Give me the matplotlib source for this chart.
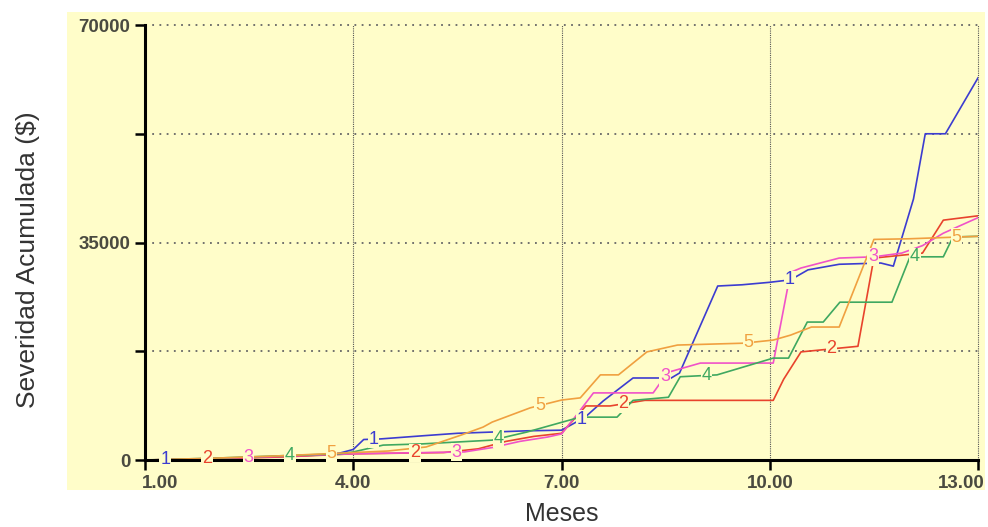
import numpy as np
import matplotlib.pyplot as plt
from matplotlib.patches import Rectangle
import matplotlib.transforms as mtransforms

# Series (month, accumulated severity in $)
m1 = [1, 1.5, 2, 2.5, 3, 3.5, 3.8, 4.0, 4.15, 4.4, 5.0, 5.5, 6.0, 6.5, 7.0, 7.34, 7.6,
      8.03, 8.42, 8.55, 8.7, 9.25, 9.6, 10.0, 10.3, 10.55, 11.0, 11.6, 11.78, 12.07,
      12.24, 12.53, 13.0]
v1 = [0, 100, 250, 400, 600, 800, 1100, 1700, 3300, 3400, 3900, 4300, 4500, 4700, 4800,
      6900, 9500, 13200, 13200, 13000, 14000, 28000, 28200, 28600, 29000, 30600, 31500,
      31700, 31200, 42000, 52500, 52500, 61500]

m2 = [1, 2, 3, 4, 5.3, 5.8, 6.2, 6.6, 7.0, 7.35, 7.7, 8.2, 10.05, 10.2, 10.45, 11.27,
      11.5, 12.2, 12.5, 13.0]
v2 = [0, 200, 500, 1000, 1200, 1800, 3000, 3800, 4300, 8700, 8700, 9600, 9600, 13000,
      17400, 18300, 32500, 33300, 38600, 39300]

m3 = [1, 2, 3, 4, 5.6, 6.0, 6.4, 6.8, 7.0, 7.2, 7.46, 8.32, 8.53, 9.0, 10.05, 10.3,
      10.45, 11.0, 11.5, 11.9, 12.2, 12.5, 12.7, 13.0]
v3 = [0, 250, 600, 1000, 1300, 2000, 3000, 3700, 4200, 7000, 10800, 10800, 14100, 15600,
      15600, 30200, 30900, 32500, 32700, 33300, 34500, 36500, 37500, 39000]

m4 = [1, 2, 3, 3.8, 4.0, 4.43, 5.0, 6.0, 6.5, 6.98, 7.27, 7.8, 8.03, 8.54, 8.71, 9.24,
      10.05, 10.27, 10.54, 10.77, 11.01, 11.76, 12.02, 12.5, 12.64, 13.0]
v4 = [0, 300, 700, 1000, 1300, 2400, 2600, 3200, 4500, 6000, 6900, 6900, 9600, 10100,
      13400, 13700, 16400, 16400, 22200, 22200, 25400, 25400, 32700, 32700, 35900, 36000]

m5 = [1, 2, 3, 4, 4.5, 5.05, 5.55, 5.87, 6.0, 6.55, 7.0, 7.27, 7.56, 7.82, 8.23, 8.67,
      9.62, 10.05, 10.3, 10.6, 11.0, 11.5, 12.0, 13.0]
v5 = [0, 300, 700, 1200, 1450, 2100, 4000, 5300, 6100, 8400, 9650, 10000, 13700, 13700,
      17400, 18500, 18800, 19300, 20100, 21400, 21400, 35500, 35600, 36000]

series = [(m1, v1), (m2, v2), (m3, v3), (m4, v4), (m5, v5)]
names = ['1', '2', '3', '4', '5']
colors = ['#3c3cd0', '#e8432c', '#f052c8', '#3fa860', '#f0a040']

x_ticks = [1, 4, 7, 10, 13]
x_ticklabels = ['1.00', '4.00', '7.00', '10.00', '13.00']
y_ticks = [0, 17500, 35000, 52500, 70000]
y_ticklabels = ['0', '', '35000', '', '70000']

bg = '#FFFDC9'

fig = plt.figure(figsize=(9.88, 5.27), dpi=100)
fig.patches.append(Rectangle((0.0678, 0.0702), 0.929, 0.907, transform=fig.transFigure,
                             facecolor=bg, edgecolor='none', zorder=-5))
ax = fig.add_axes([0.1468, 0.1271, 0.8431, 0.8254])
ax.set_facecolor(bg)

for (m, v), c in zip(series, colors):
    ax.plot(m, v, color=c, lw=1.2, zorder=2)

# number markers along each line, like the simulation tool draws them
for k, ((m, v), c, n) in enumerate(zip(series, colors, names)):
    for j in range(4):
        xm = 1.29 + 0.6 * k + 3 * j
        ym = np.interp(xm, m, v)
        ax.text(xm, ym, n, color=c, fontsize=13, ha='center', va='center',
                family='Liberation Sans', zorder=4,
                bbox=dict(facecolor=bg, edgecolor='none', pad=0.5))

ax.set_xlim(1, 13)
ax.set_ylim(0, 70000)
ax.set_xticks(x_ticks)
ax.set_xticklabels(x_ticklabels)
ax.set_yticks(y_ticks)
ax.set_yticklabels(y_ticklabels)

for s in ['top', 'right']:
    ax.spines[s].set_visible(False)
for s in ['left', 'bottom']:
    ax.spines[s].set_linewidth(2.2)
    ax.spines[s].set_color('black')

ax.tick_params(direction='out', length=7, width=1.8, color='black',
               labelsize=13.5, labelcolor='#4a4a40')
for lab in ax.get_xticklabels() + ax.get_yticklabels():
    lab.set_family('Liberation Sans')
    lab.set_fontweight('bold')

xl = ax.get_xticklabels()
xl[0].set_horizontalalignment('left')
xl[0].set_transform(xl[0].get_transform() + mtransforms.ScaledTranslation(-0.03, 0, fig.dpi_scale_trans))
xl[-1].set_horizontalalignment('right')
xl[-1].set_transform(xl[-1].get_transform() + mtransforms.ScaledTranslation(0.07, 0, fig.dpi_scale_trans))

ax.grid(axis='x', color='#555555', lw=0.8, linestyle=(0, (1, 1)))
ax.grid(axis='y', color='#666666', lw=1.3, linestyle=(0, (1, 3)))
for g in ax.get_xgridlines() + ax.get_ygridlines():
    g.set_clip_on(False)
ax.set_axisbelow(True)

fig.text(562 / 988, 6 / 527, 'Meses', ha='center', va='baseline', fontsize=18,
         color='#333333', family='Liberation Sans')
fig.text(28 / 988, 1 - 260 / 527, 'Severidad Acumulada ($)', ha='center', va='center',
         rotation=90, fontsize=19, color='#333333', family='Liberation Sans')

plt.savefig('out.png', dpi=100, facecolor='white')
